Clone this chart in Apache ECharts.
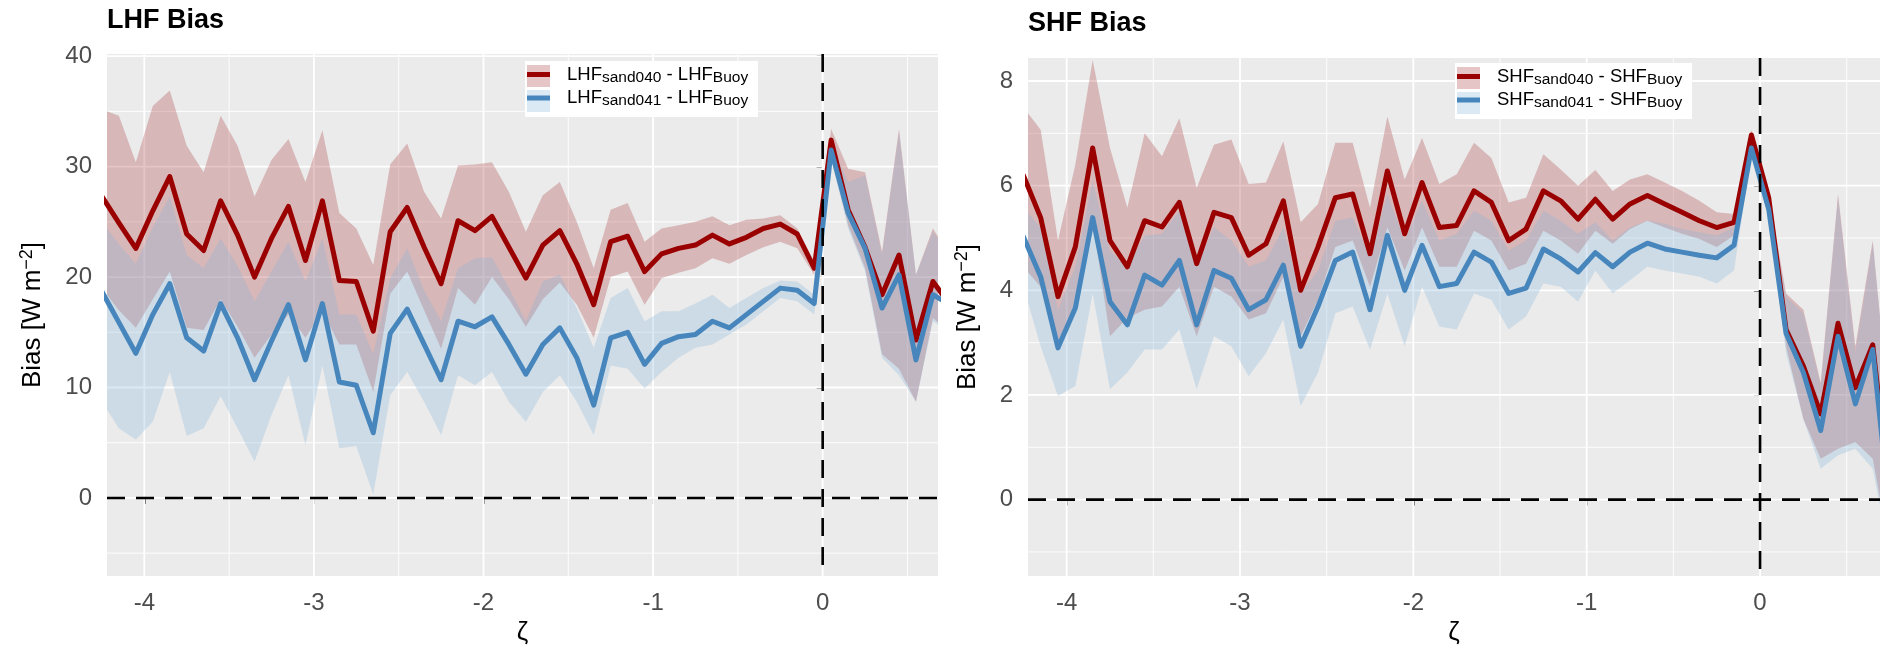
<!DOCTYPE html>
<html>
<head>
<meta charset="utf-8">
<title>LHF / SHF Bias</title>
<script src="https://cdn.jsdelivr.net/npm/echarts@6/dist/echarts.min.js"></script>
<style>
  html, body { margin: 0; padding: 0; background: #ffffff; }
  #chart { width: 1880px; height: 651px; }
</style>
</head>
<body>
<div id="chart"></div>
<script>
// Stability parameter bin centres (zeta)
const zeta = [-4.25,-4.15,-4.05,-3.95,-3.85,-3.75,-3.65,-3.55,-3.45,-3.35,-3.25,-3.15,-3.05,-2.95,-2.85,-2.75,-2.65,-2.55,-2.45,-2.35,-2.25,-2.15,-2.05,-1.95,-1.85,-1.75,-1.65,-1.55,-1.45,-1.35,-1.25,-1.15,-1.05,-0.95,-0.85,-0.75,-0.65,-0.55,-0.45,-0.35,-0.25,-0.15,-0.05,0.05,0.15,0.25,0.35,0.45,0.55,0.65,0.75];

// Latent heat flux bias [W m-2]: mean and band limits
const lhfMean040 = [27.3,24.9,22.6,26.0,29.1,23.9,22.4,26.9,23.8,20.0,23.5,26.4,21.5,26.9,19.7,19.6,15.1,24.1,26.3,22.7,19.4,25.1,24.2,25.5,22.7,19.9,22.9,24.2,21.2,17.5,23.2,23.7,20.5,22.1,22.6,22.9,23.8,23.0,23.6,24.4,24.8,23.9,20.8,32.4,26.1,22.7,18.4,22.0,14.3,19.6,17.5];
const lhfHi040   = [35.2,34.6,30.4,35.5,36.9,31.9,29.5,34.6,31.9,27.3,30.6,32.5,28.6,33.3,25.8,24.4,21.1,30.2,32.1,27.7,25.3,30.1,30.2,30.4,27.7,24.1,27.4,28.6,25.0,20.8,26.1,26.7,23.2,24.4,24.7,25.0,25.5,24.7,25.2,25.3,25.6,24.4,21.4,33.4,29.8,29.5,22.3,33.4,20.2,24.4,22.0];
const lhfLo040   = [19.0,17.0,15.4,18.0,20.5,15.4,15.2,18.0,15.5,12.7,14.8,16.6,14.5,16.9,13.9,13.9,9.6,18.5,20.5,17.0,13.5,19.0,17.5,20.0,18.0,15.5,18.0,19.5,17.5,14.5,20.0,20.5,17.5,19.9,20.4,20.8,21.7,21.2,22.0,22.7,23.2,22.6,20.2,31.0,24.7,20.8,13.0,11.7,8.7,16.3,15.0];
const lhfMean041 = [18.7,15.9,13.1,16.6,19.4,14.5,13.3,17.6,14.5,10.7,14.2,17.5,12.5,17.6,10.5,10.2,5.9,14.9,17.1,13.9,10.7,16.0,15.5,16.4,13.9,11.2,13.9,15.4,12.7,8.4,14.5,15.0,12.1,14.0,14.6,14.8,16.0,15.4,16.6,17.8,19.0,18.8,17.6,31.5,25.8,22.6,17.2,20.2,12.5,18.4,17.5];
const lhfHi041   = [25.0,23.0,21.2,24.5,27.3,22.0,20.8,23.5,21.0,17.8,20.5,23.2,19.6,23.5,16.6,16.6,13.0,19.9,22.6,18.8,16.0,20.8,21.7,21.8,19.0,16.0,19.6,20.2,17.2,13.6,18.1,19.0,16.0,16.9,16.9,17.6,18.4,17.2,18.1,19.0,19.7,19.6,18.4,32.0,28.6,29.2,22.0,33.1,20.2,24.1,22.0];
const lhfLo041   = [8.7,6.3,5.3,6.9,11.4,5.6,6.3,9.2,6.3,3.3,7.5,11.1,4.8,12.0,4.5,4.7,0.3,9.3,11.4,8.7,5.7,11.1,10.2,11.4,8.7,6.9,9.6,11.1,8.7,5.7,12.0,11.7,9.9,11.4,12.7,13.6,13.9,14.8,15.7,16.9,18.1,17.8,16.6,30.7,24.4,20.5,12.7,11.1,8.7,16.0,15.0];

// Sensible heat flux bias [W m-2]: mean and band limits
const shfMean040 = [6.2,5.39,3.88,4.83,6.72,4.95,4.45,5.33,5.21,5.68,4.51,5.49,5.39,4.67,4.89,5.71,4.0,4.83,5.77,5.84,4.7,6.28,5.08,6.06,5.2,5.24,5.9,5.68,4.95,5.17,5.9,5.71,5.36,5.74,5.36,5.65,5.81,5.65,5.49,5.33,5.2,5.3,6.97,5.77,3.25,2.55,1.64,3.37,2.14,2.96,0.0];
const shfHi040   = [7.5,7.07,4.95,6.4,8.4,6.72,5.58,7.0,6.56,7.29,5.96,6.78,6.88,6.03,6.06,6.85,5.3,5.65,6.82,6.82,5.58,7.32,6.12,6.91,6.03,6.22,6.82,6.53,5.68,5.77,6.6,6.31,6.0,6.3,5.9,6.12,6.22,6.06,5.9,5.71,5.49,5.46,7.07,5.85,3.94,3.63,2.24,5.84,2.93,4.95,1.5];
const shfLo040   = [4.45,4.07,3.0,3.75,5.33,3.12,3.47,3.63,3.69,4.07,3.12,4.07,3.88,3.44,3.56,4.26,3.12,3.82,4.83,4.95,4.07,5.2,4.38,5.2,4.45,4.45,5.14,4.95,4.38,4.51,5.14,4.95,4.7,5.14,4.89,5.17,5.33,5.2,5.08,4.98,4.83,5.05,6.85,5.52,2.93,1.54,0.78,0.97,1.1,0.78,-1.0];
const shfMean041 = [5.03,4.26,2.9,3.66,5.39,3.78,3.34,4.29,4.1,4.57,3.34,4.38,4.23,3.63,3.82,4.48,2.93,3.69,4.57,4.73,3.63,5.05,4.0,4.86,4.07,4.13,4.73,4.54,3.94,4.04,4.79,4.6,4.35,4.72,4.45,4.73,4.9,4.79,4.73,4.67,4.62,4.86,6.72,5.55,3.18,2.43,1.32,3.12,1.83,2.87,-0.3];
const shfHi041   = [5.58,5.2,3.63,4.45,6.09,4.76,4.45,5.05,5.08,5.52,4.45,5.2,4.95,4.45,4.57,5.2,3.94,4.38,5.33,5.39,4.64,5.84,4.95,5.71,4.95,5.08,5.52,5.33,4.76,4.95,5.52,5.33,5.08,5.3,4.95,5.2,5.33,5.27,5.17,5.11,5.05,5.2,6.85,5.71,3.88,3.56,2.17,5.77,2.8,4.89,1.5];
const shfLo041   = [4.07,2.93,1.98,2.17,3.94,2.11,2.43,2.87,2.87,3.25,2.11,3.12,2.93,2.36,2.8,3.44,1.79,2.43,3.56,3.69,2.87,3.94,2.93,4.07,3.31,3.25,3.94,3.82,3.25,3.5,4.13,4.07,3.78,4.38,3.94,4.19,4.45,4.38,4.32,4.26,4.13,4.38,6.6,5.39,2.8,1.54,0.59,0.85,0.97,0.59,-1.1];

// Axis breaks
const xTicks   = [-4, -3, -2, -1, 0];
const xMinor   = [-3.5, -2.5, -1.5, -0.5, 0.5];
const lhfTicks = [0, 10, 20, 30, 40];
const lhfMinor = [-5, 5, 15, 25, 35];
const shfTicks = [0, 2, 4, 6, 8];
const shfMinor = [-1, 1, 3, 5, 7];

const FONT = "'Liberation Sans', Arial, Helvetica, sans-serif";
const SZ = { tick: 24, title: 27, yTitle: 26, ySup: 18, xTitle: 26, main: 18.5, sub: 15.5 };

const RED_LINE = '#9a0000';
const BLUE_LINE = '#4686bc';
const RED_FILL = 'rgba(168,62,65,0.30)';
const BLUE_FILL = 'rgba(135,182,218,0.30)';

// Filled band between lower and upper limits, built from the series data
function bandSeries(name, gi, lo, hi, fill) {
  return {
    name, type: 'custom', xAxisIndex: gi, yAxisIndex: gi, z: 2,
    itemStyle: { color: fill },
    encode: { x: 0, y: [1, 2] },
    data: zeta.map((x, i) => [x, lo[i], hi[i]]),
    renderItem(params, api) {
      if (params.dataIndexInside !== 0) return null;
      const n = params.dataInsideLength;
      const upper = [], lower = [];
      for (let i = 0; i < n; i++) {
        upper.push(api.coord([api.value(0, i), api.value(2, i)]));
        lower.push(api.coord([api.value(0, i), api.value(1, i)]));
      }
      const cs = params.coordSys;
      return {
        type: 'polygon',
        shape: { points: upper.concat(lower.reverse()) },
        style: { fill: fill },
        clipPath: { type: 'rect', shape: { x: cs.x, y: cs.y, width: cs.width, height: cs.height } }
      };
    }
  };
}

function lineSeries(name, gi, values, color) {
  return {
    name, type: 'line', xAxisIndex: gi, yAxisIndex: gi, z: 3,
    data: zeta.map((x, i) => [x, values[i]]),
    showSymbol: false, symbol: 'none', clip: true,
    itemStyle: { color },
    lineStyle: { color, width: 5, join: 'round', cap: 'round' }
  };
}

// Straight rules across the panel at data values (grid lines and zero lines)
function ruleSeries(gi, values, vertical, style, z) {
  return {
    type: 'custom', xAxisIndex: gi, yAxisIndex: gi, z, silent: true,
    encode: { x: 0, y: 1 },
    data: values.map(v => vertical ? [v, 0] : [0, v]),
    renderItem(params, api) {
      const cs = params.coordSys;
      const p = api.coord([api.value(0), api.value(1)]);
      const shape = vertical
        ? { x1: p[0], y1: cs.y, x2: p[0], y2: cs.y + cs.height }
        : { x1: cs.x, y1: p[1], x2: cs.x + cs.width, y2: p[1] };
      return { type: 'line', shape, style: Object.assign({ fill: null }, style) };
    }
  };
}

function panelSeries(gi, prefix, m40, lo40, hi40, m41, lo41, hi41, yMajor, yMinor) {
  const major = { stroke: '#ffffff', lineWidth: 1.8 };
  const minor = { stroke: '#ffffff', lineWidth: 0.9 };
  const dash = { stroke: '#000000', lineWidth: 2.6, lineDash: [18, 11] };
  return [
    ruleSeries(gi, xMinor, true, minor, 1),
    ruleSeries(gi, yMinor, false, minor, 1),
    ruleSeries(gi, xTicks, true, major, 1),
    ruleSeries(gi, yMajor, false, major, 1),
    bandSeries(prefix + 'band040', gi, lo40, hi40, RED_FILL),
    bandSeries(prefix + 'band041', gi, lo41, hi41, BLUE_FILL),
    lineSeries(prefix + '040', gi, m40, RED_LINE),
    lineSeries(prefix + '041', gi, m41, BLUE_LINE),
    ruleSeries(gi, [0], false, dash, 6),
    ruleSeries(gi, [0], true, dash, 6)
  ];
}

function xAxis(gi, min, max) {
  return {
    gridIndex: gi, type: 'value', min, max,
    axisLine: { show: false },
    axisTick: { show: true, length: 6, lineStyle: { color: '#333333', width: 1.5 }, customValues: xTicks },
    axisLabel: { customValues: xTicks, color: '#4d4d4d', fontSize: SZ.tick, fontFamily: FONT, margin: 15 },
    splitLine: { show: false },
    name: 'ζ', nameLocation: 'middle', nameGap: 44,
    nameTextStyle: { color: '#000000', fontSize: SZ.xTitle, fontFamily: FONT }
  };
}

function yAxis(gi, min, max, ticks, gap) {
  return {
    gridIndex: gi, type: 'value', min, max,
    axisLine: { show: false },
    axisTick: { show: true, length: 6, lineStyle: { color: '#333333', width: 1.5 }, customValues: ticks },
    axisLabel: { customValues: ticks, color: '#4d4d4d', fontSize: SZ.tick, fontFamily: FONT, margin: 15 },
    splitLine: { show: false },
    name: '{t|Bias [W m}{p|−2}{t|]}', nameLocation: 'middle', nameRotate: 90, nameGap: gap,
    nameTextStyle: {
      rich: {
        t: { fontSize: SZ.yTitle, fontFamily: FONT, color: '#000000', lineHeight: SZ.yTitle + 3 },
        p: { fontSize: SZ.ySup, fontFamily: FONT, color: '#000000', lineHeight: 14, verticalAlign: 'top' }
      }
    }
  };
}

const legendRich = {
  g: { width: 12 },
  m: { fontSize: SZ.main, fontFamily: FONT, color: '#000000', lineHeight: 22 },
  s: { fontSize: SZ.sub, fontFamily: FONT, color: '#000000', lineHeight: 10, verticalAlign: 'bottom' }
};

function legendPair(prefix, left, top, boxRight) {
  const keyLeft = left + 2;
  return [
    { // key squares and white box
      orient: 'vertical', left, top, z: 4, selectedMode: false,
      icon: 'rect', itemWidth: 23, itemHeight: 22, itemGap: 3,
      padding: [4, boxRight - (keyLeft + 23), 5, 2],
      backgroundColor: '#ffffff',
      data: [
        { name: prefix + 'band040', itemStyle: { color: RED_FILL } },
        { name: prefix + 'band041', itemStyle: { color: BLUE_FILL } }
      ],
      formatter: () => '',
      textStyle: { fontSize: 10 }
    },
    { // line keys and labels
      orient: 'vertical', left, top, z: 5, selectedMode: false,
      icon: 'rect', itemWidth: 23, itemHeight: 5, itemGap: 3,
      padding: [4, 2, 5, 2],
      data: [
        { name: prefix + '040', itemStyle: { color: RED_LINE } },
        { name: prefix + '041', itemStyle: { color: BLUE_LINE } }
      ],
      formatter: name => {
        const run = name.slice(-3);
        return '{g|}{m|' + prefix + '}{s|sand' + run + '}{m| - ' + prefix + '}{s|Buoy}';
      },
      textStyle: { rich: legendRich }
    }
  ];
}

const chart = echarts.init(document.getElementById('chart'), null, { renderer: 'canvas' });
chart.setOption({
  animation: false,
  backgroundColor: '#ffffff',
  title: [
    { text: 'LHF Bias', left: 107, top: 7, padding: 0,
      textStyle: { fontFamily: FONT, fontSize: SZ.title, fontWeight: 'bold', color: '#000000' } },
    { text: 'SHF Bias', left: 1028, top: 10, padding: 0,
      textStyle: { fontFamily: FONT, fontSize: SZ.title, fontWeight: 'bold', color: '#000000' } }
  ],
  legend: [].concat(legendPair('LHF', 525, 61, 758), legendPair('SHF', 1455, 63, 1692)),
  grid: [
    { left: 107, top: 54, width: 831, height: 522, show: true, backgroundColor: '#ebebeb', borderWidth: 0 },
    { left: 1028, top: 58, width: 852, height: 522, show: true, backgroundColor: '#ebebeb', borderWidth: 0 }
  ],
  xAxis: [xAxis(0, -4.22, 0.68), xAxis(1, -4.223, 0.692)],
  yAxis: [yAxis(0, -7.07, 40.2, lhfTicks, 60), yAxis(1, -1.46, 8.44, shfTicks, 46)],
  series: [].concat(
    panelSeries(0, 'LHF', lhfMean040, lhfLo040, lhfHi040, lhfMean041, lhfLo041, lhfHi041, lhfTicks, lhfMinor),
    panelSeries(1, 'SHF', shfMean040, shfLo040, shfHi040, shfMean041, shfLo041, shfHi041, shfTicks, shfMinor)
  )
});
</script>
</body>
</html>
